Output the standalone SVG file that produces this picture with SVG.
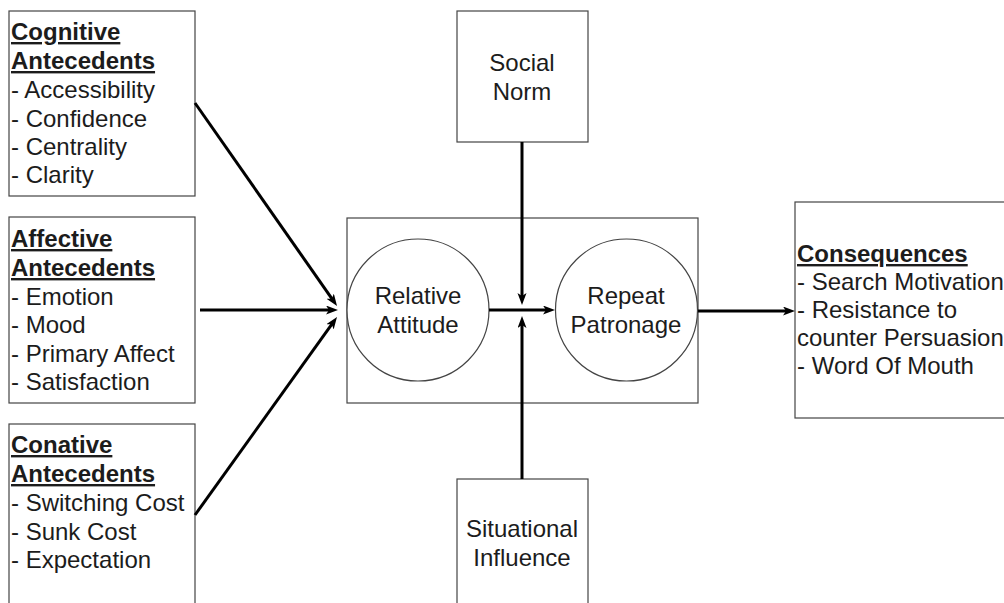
<svg xmlns="http://www.w3.org/2000/svg" width="1004" height="603" viewBox="0 0 1004 603">
<style>
.box{fill:#fff;stroke:#444;stroke-width:1.2}
.t{font-family:"Liberation Sans",Arial,sans-serif;font-size:24px;fill:#1c1c1c}
.h{font-weight:bold;text-decoration:underline}
.c{text-anchor:middle}
.ln{stroke:#000;stroke-width:3;fill:none}
</style>
<defs>
<marker id="ah" markerUnits="userSpaceOnUse" markerWidth="14" markerHeight="10" refX="6" refY="4.5" orient="auto">
<path d="M0,0 L12,4.5 L0,9 L3,4.5 z" fill="#000"/>
</marker>
</defs>
<rect width="1004" height="603" fill="#fff"/>
<g id="cognitive">
<rect class="box" x="9" y="11" width="186" height="185"/>
<text class="t h" x="11" y="40">Cognitive</text>
<text class="t h" x="11" y="69">Antecedents</text>
<text class="t" x="11" y="98">- Accessibility</text>
<text class="t" x="11" y="127">- Confidence</text>
<text class="t" x="11" y="155">- Centrality</text>
<text class="t" x="11" y="183">- Clarity</text>
</g>
<g id="affective">
<rect class="box" x="9" y="217" width="186" height="186"/>
<text class="t h" x="11" y="247">Affective</text>
<text class="t h" x="11" y="276">Antecedents</text>
<text class="t" x="11" y="305">- Emotion</text>
<text class="t" x="11" y="333">- Mood</text>
<text class="t" x="11" y="362">- Primary Affect</text>
<text class="t" x="11" y="390">- Satisfaction</text>
</g>
<g id="conative">
<rect class="box" x="9" y="424" width="186" height="190"/>
<text class="t h" x="11" y="453">Conative</text>
<text class="t h" x="11" y="482">Antecedents</text>
<text class="t" x="11" y="511">- Switching Cost</text>
<text class="t" x="11" y="540">- Sunk Cost</text>
<text class="t" x="11" y="568">- Expectation</text>
</g>
<g id="social-norm">
<rect class="box" x="457" y="11" width="131" height="131"/>
<text class="t c" x="522" y="71">Social</text>
<text class="t c" x="522" y="100">Norm</text>
</g>
<g id="core">
<rect class="box" x="347" y="218" width="351" height="185"/>
</g>
<g id="relative-attitude">
<circle class="box" cx="418" cy="310" r="71"/>
<text class="t c" x="418" y="304">Relative</text>
<text class="t c" x="418" y="333">Attitude</text>
</g>
<g id="repeat-patronage">
<circle class="box" cx="626.5" cy="310" r="71"/>
<text class="t c" x="626" y="304">Repeat</text>
<text class="t c" x="626" y="333">Patronage</text>
</g>
<g id="situational-influence">
<rect class="box" x="457" y="479" width="131" height="140"/>
<text class="t c" x="522" y="537">Situational</text>
<text class="t c" x="522" y="566">Influence</text>
</g>
<g id="consequences">
<rect class="box" x="795" y="202" width="220" height="216"/>
<text class="t h" x="797" y="262">Consequences</text>
<text class="t" x="797" y="290">- Search Motivation</text>
<text class="t" x="797" y="318">- Resistance to</text>
<text class="t" x="797" y="346">counter Persuasion</text>
<text class="t" x="797" y="374">- Word Of Mouth</text>
</g>
<g id="connectors">
<line class="ln" x1="195" y1="103" x2="333.6" y2="301.1" marker-end="url(#ah)"/>
<line class="ln" x1="200" y1="310" x2="332" y2="310" marker-end="url(#ah)"/>
<line class="ln" x1="195" y1="515" x2="333.5" y2="321.9" marker-end="url(#ah)"/>
<line class="ln" x1="489" y1="310" x2="549" y2="310" marker-end="url(#ah)"/>
<line class="ln" x1="522" y1="142" x2="522" y2="299" marker-end="url(#ah)"/>
<line class="ln" x1="522" y1="479" x2="522" y2="322" marker-end="url(#ah)"/>
<line class="ln" x1="698" y1="311" x2="789" y2="311" marker-end="url(#ah)"/>
</g>
</svg>
